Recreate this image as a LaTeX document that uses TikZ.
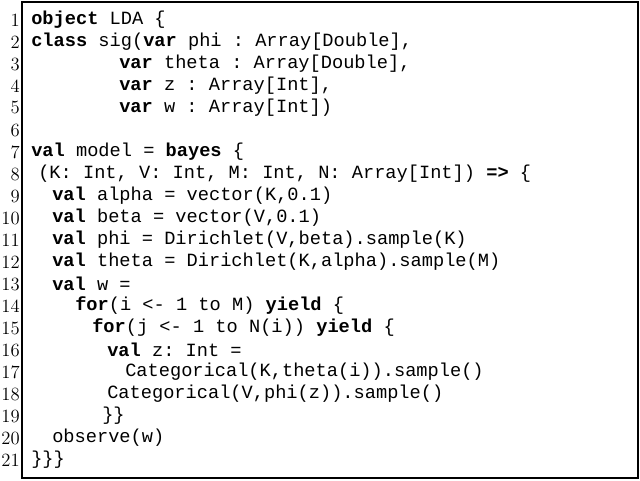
\documentclass[tikz,border=0pt]{standalone}
\usepackage{fontspec}
\setmonofont{Liberation Mono}
\begin{document}
\begin{tikzpicture}[x=0.75pt,y=-0.75pt,
  code/.style={anchor=west,inner sep=0pt,font=\ttfamily\fontsize{14}{16}\selectfont},
  num/.style={anchor=east,inner sep=0pt,font=\rmfamily\fontsize{14}{16}\selectfont}]
\useasboundingbox (0,0) rectangle (640,481);
\draw[line width=0.8pt] (22,2) rectangle (638,478);
\newcommand{\kw}[1]{\textbf{#1}}
\foreach \n in {1,...,21}{\node[num] (n\n) at (20,{20+(\n-1)*22}) {\n};}
\node[code] (l1) at (31,20) {\kw{object} LDA \{};
\node[code] (l2) at (31,42) {\kw{class} sig(\kw{var} phi : Array[Double],};
\node[code] (l3) at (119,64) {\kw{var} theta : Array[Double],};
\node[code] (l4) at (119,86) {\kw{var} z : Array[Int],};
\node[code] (l5) at (119,108) {\kw{var} w : Array[Int])};
\node[code] (l7) at (31,152) {\kw{val} model = \kw{bayes} \{};
\node[code] (l8) at (38,174) {(K: Int, V: Int, M: Int, N: Array[Int]) \kw{=>} \{};
\node[code] (l9) at (52,196) {\kw{val} alpha = vector(K,0.1)};
\node[code] (l10) at (52,218) {\kw{val} beta = vector(V,0.1)};
\node[code] (l11) at (52,240) {\kw{val} phi = Dirichlet(V,beta).sample(K)};
\node[code] (l12) at (52,262) {\kw{val} theta = Dirichlet(K,alpha).sample(M)};
\node[code] (l13) at (52,284) {\kw{val} w =};
\node[code] (l14) at (75,306) {\kw{for}(i <- 1 to M) \kw{yield} \{};
\node[code] (l15) at (92,328) {\kw{for}(j <- 1 to N(i)) \kw{yield} \{};
\node[code] (l16) at (107,350) {\kw{val} z: Int =};
\node[code] (l17) at (125,372) {Categorical(K,theta(i)).sample()};
\node[code] (l18) at (107,394) {Categorical(V,phi(z)).sample()};
\node[code] (l19) at (102,416) {\}\}};
\node[code] (l20) at (52,438) {observe(w)};
\node[code] (l21) at (31,460) {\}\}\}};
\end{tikzpicture}
\end{document}
